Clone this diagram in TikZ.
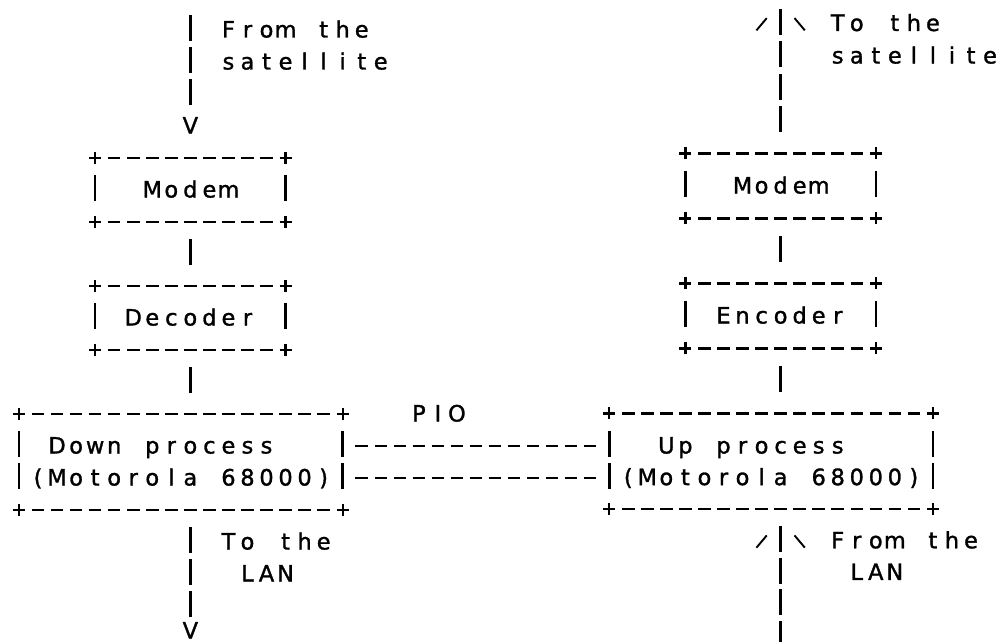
\documentclass[tikz,border=0pt]{standalone}
\usepackage{fontspec}
\usepackage{graphicx}
\newfontfamily\ascfont[FakeBold=1.3]{DejaVu Sans}

% width of one character cell of the text grid
\newlength\cw
\setlength\cw{19.04pt}

% \asc{...}: sets a line of the character grid, one fixed cell per character;
% '~' is a blank cell, box-drawing characters are drawn with rules
\ExplSyntaxOn
\cs_new_protected:Npn \asc_dash:  { \makebox[\cw]{\rule[6.5pt]{12.5pt}{2.2pt}} }
\cs_new_protected:Npn \asc_bar:   { \makebox[\cw]{\rule[-3.6pt]{2.5pt}{26pt}} }
\cs_new_protected:Npn \asc_plus:
  { \makebox[\cw]{\rule[6.5pt]{12pt}{2.2pt}\kern-7.1pt\rule[1.6pt]{2.2pt}{12pt}\kern4.9pt} }
\cs_new_protected:Npn \asc_slash: { \makebox[\cw]{\rotatebox{50}{\rule{16pt}{1.9pt}}} }
\cs_new_protected:Npn \asc_back:
  { \makebox[\cw]{\raisebox{12.3pt}{\rotatebox{-50}{\rule{16pt}{1.9pt}}}} }
\cs_new_protected:Npn \asc_cell:n #1
  {
    \str_case_e:nnF {#1}
      {
        { \c_backslash_str } { \asc_back: }
        { \c_tilde_str }     { \makebox[\cw]{} }
        { - }                { \asc_dash: }
        { | }                { \asc_bar: }
        { + }                { \asc_plus: }
        { / }                { \asc_slash: }
      }
      { \makebox[\cw]{#1} }
  }
\NewDocumentCommand \asc { m } { \str_map_function:nN {#1} \asc_cell:n }
\ExplSyntaxOff

% grid: left edge of a column, baselines of the rows on each side
\pgfmathdeclarefunction{colx}{1}{\pgfmathparse{19.04*#1+9.5}}
\pgfmathdeclarefunction{lrow}{1}{\pgfmathparse{37.5+32*#1}}
\pgfmathdeclarefunction{rrow}{1}{\pgfmathparse{#1<=13 ? 453.5-32.5*(13-#1) : 453.5+31.6*(#1-13)}}

\tikzset{
  asc/.style={anchor=base west, inner sep=0pt, outer sep=0pt,
              font=\ascfont\fontsize{22.5pt}{32pt}\selectfont, text=black}
}

\begin{document}
\begin{tikzpicture}[x=1pt, y=-1pt]
  \fill[white] (0,0) rectangle (1002,642);
  \useasboundingbox (0,0) rectangle (1002,642);

  % ---- receiving chain (left) ----
  \node[asc] (satin-a)    at ({colx(9)},{lrow(0)})  {\asc{| From the}};
  \node[asc] (satin-b)    at ({colx(9)},{lrow(1)})  {\asc{| satellite}};
  \node[asc] (satin-c)    at ({colx(9)},{lrow(2)})  {\asc{|}};
  \node[asc] (satin-v)    at ({colx(9)},{lrow(3)})  {\asc{V}};
  \node[asc] (modemL-top) at ({colx(4)},{lrow(4)})  {\asc{+---------+}};
  \node[asc] (modemL)     at ({colx(4)},{lrow(5)})  {\asc{|~~Modem~~|}};
  \node[asc] (modemL-bot) at ({colx(4)},{lrow(6)})  {\asc{+---------+}};
  \node[asc] (link-md)    at ({colx(9)},{lrow(7)})  {\asc{|}};
  \node[asc] (dec-top)    at ({colx(4)},{lrow(8)})  {\asc{+---------+}};
  \node[asc] (dec)        at ({colx(4)},{lrow(9)})  {\asc{| Decoder |}};
  \node[asc] (dec-bot)    at ({colx(4)},{lrow(10)}) {\asc{+---------+}};
  \node[asc] (link-dp)    at ({colx(9)},{lrow(11)}) {\asc{|}};
  \node[asc] (down-top)   at ({colx(0)},{lrow(12)}) {\asc{+----------------+}};
  \node[asc] (down-a)     at ({colx(0)},{lrow(13)}) {\asc{| Down process~~~|}};
  \node[asc] (down-b)     at ({colx(0)},{lrow(14)}) {\asc{|(Motorola 68000)|}};
  \node[asc] (down-bot)   at ({colx(0)},{lrow(15)}) {\asc{+----------------+}};
  \node[asc] (lanout-a)   at ({colx(9)},{lrow(16)}) {\asc{| To the}};
  \node[asc] (lanout-b)   at ({colx(9)},{lrow(17)}) {\asc{|~~LAN}};
  \node[asc] (lanout-c)   at ({colx(9)},{lrow(18)}) {\asc{|}};
  \node[asc] (lanout-v)   at ({colx(9)},{lrow(19)-7}) {\asc{V}};

  % ---- PIO link between the two processors ----
  \node[asc] (pio)        at ({colx(21)},{lrow(12)}) {\asc{PIO}};
  \node[asc] (pio-a)      at ({colx(18)},{lrow(13)}) {\asc{-------------}};
  \node[asc] (pio-b)      at ({colx(18)},{lrow(14)}) {\asc{-------------}};

  % ---- sending chain (right) ----
  \node[asc] (satout-a)   at ({colx(39)},{rrow(0)})  {\asc{/|\ To the}};
  \node[asc] (satout-b)   at ({colx(40)},{rrow(1)})  {\asc{|~~satellite}};
  \node[asc] (satout-c)   at ({colx(40)},{rrow(2)})  {\asc{|}};
  \node[asc] (satout-d)   at ({colx(40)},{rrow(3)})  {\asc{|}};
  \node[asc] (modemR-top) at ({colx(35)},{rrow(4)})  {\asc{+---------+}};
  \node[asc] (modemR)     at ({colx(35)},{rrow(5)})  {\asc{|~~Modem~~|}};
  \node[asc] (modemR-bot) at ({colx(35)},{rrow(6)})  {\asc{+---------+}};
  \node[asc] (link-em)    at ({colx(40)},{rrow(7)})  {\asc{|}};
  \node[asc] (enc-top)    at ({colx(35)},{rrow(8)})  {\asc{+---------+}};
  \node[asc] (enc)        at ({colx(35)},{rrow(9)})  {\asc{| Encoder |}};
  \node[asc] (enc-bot)    at ({colx(35)},{rrow(10)}) {\asc{+---------+}};
  \node[asc] (link-up)    at ({colx(40)},{rrow(11)}) {\asc{|}};
  \node[asc] (up-top)     at ({colx(31)},{rrow(12)}) {\asc{+----------------+}};
  \node[asc] (up-a)       at ({colx(31)},{rrow(13)}) {\asc{|~~Up process~~~~|}};
  \node[asc] (up-b)       at ({colx(31)},{rrow(14)}) {\asc{|(Motorola 68000)|}};
  \node[asc] (up-bot)     at ({colx(31)},{rrow(15)}) {\asc{+----------------+}};
  \node[asc] (lanin-a)    at ({colx(39)},{rrow(16)}) {\asc{/|\ From the}};
  \node[asc] (lanin-b)    at ({colx(40)},{rrow(17)}) {\asc{|~~~LAN}};
  \node[asc] (lanin-c)    at ({colx(40)},{rrow(18)}) {\asc{|}};
  \node[asc] (lanin-d)    at ({colx(40)},{rrow(19)}) {\asc{|}};
\end{tikzpicture}
\end{document}
